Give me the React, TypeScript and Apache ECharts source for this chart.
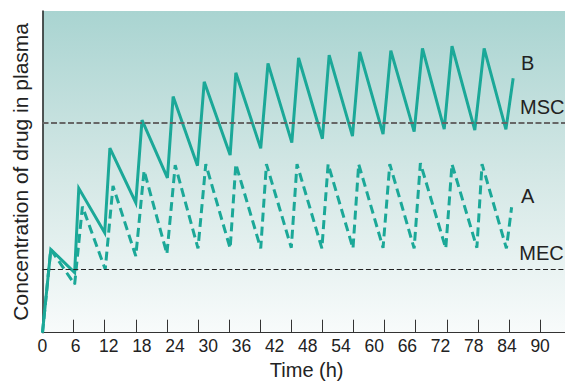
import React, { useEffect, useRef } from 'react';
import * as echarts from 'echarts';

// Curve B (solid): time (h) and concentration (arbitrary units, 0-100)
const bTimes = [0, 1.6, 6.2, 7.0, 12.0, 13.0, 18.0, 19.2, 24.1, 25.2, 29.9, 31.2, 36.2, 37.3, 42.1, 43.5, 48.1, 49.4, 54.0, 55.3, 59.8, 61.2, 65.7, 67.2, 71.7, 73.3, 77.5, 79.0, 83.4, 85.2, 89.4, 90.8];
const bValues = [0, 25.9, 18.7, 44.9, 31.1, 57.4, 40.4, 66.1, 48.1, 73.4, 51.9, 78.0, 55.2, 80.8, 57.3, 83.7, 59.1, 85.4, 60.3, 86.3, 61.1, 87.3, 61.7, 87.7, 62.5, 88.4, 63.3, 89.1, 63.0, 88.4, 63.2, 79.1];

// Curve A (dashed)
const aTimes = [0, 1.6, 6.2, 7.7, 12.1, 13.6, 18.0, 19.6, 24.0, 25.6, 30.0, 31.5, 36.2, 37.3, 42.1, 43.2, 48.0, 49.1, 53.9, 55.1, 59.9, 61.0, 65.7, 67.0, 71.7, 72.9, 77.8, 79.0, 83.8, 84.8, 89.5, 90.5];
const aValues = [0, 25.9, 15.0, 39.2, 19.7, 45.6, 23.8, 50.4, 24.5, 52.1, 26.2, 52.4, 26.2, 52.4, 26.2, 52.4, 26.4, 52.4, 26.2, 52.4, 26.2, 52.4, 26.4, 52.4, 26.2, 52.7, 26.2, 52.4, 26.4, 52.4, 26.2, 39.0];

const tickHours = [6, 12, 18, 24, 30, 36, 42, 48, 54, 60, 66, 72, 78, 84, 90, 96];
const labelHours = [0, 6, 12, 18, 24, 30, 36, 42, 48, 54, 60, 66, 72, 78, 84, 90];

const MSC_LEVEL = 65.3;
const MEC_LEVEL = 19.8;

const TEAL = '#1ba898';
const FONT = 'Liberation Sans, Arial, Helvetica, sans-serif';

export default function App() {
  const ref = useRef<HTMLDivElement>(null);
  useEffect(() => {
    const chart = echarts.init(ref.current as HTMLDivElement, null, { renderer: 'svg' });
    const bData = bTimes.map((t, i) => [t, bValues[i]]);
    const aData = aTimes.map((t, i) => [t, aValues[i]]);
    chart.setOption({
      animation: false,
      textStyle: { fontFamily: FONT },
      grid: [
        {
          left: 42.5, right: 0, top: 11, bottom: 52.3, show: true, borderWidth: 0,
          backgroundColor: {
            type: 'linear', x: 0, y: 0, x2: 0, y2: 1,
            colorStops: [
              { offset: 0, color: '#a9d4d1' },
              { offset: 0.5, color: '#d3e7e5' },
              { offset: 1, color: '#f8fbfb' },
            ],
          },
        },
        { left: 42.3, right: 0, top: 11, bottom: 52.3, show: false },
      ],
      xAxis: [
        {
          gridIndex: 0, type: 'value', min: 0, max: 100.8,
          axisLine: { show: true, lineStyle: { color: '#333', width: 1.2 } },
          axisTick: { show: true, inside: true, length: 13, customValues: tickHours, lineStyle: { color: '#333', width: 1 } },
          axisLabel: { show: false },
          splitLine: { show: false },
        },
        {
          gridIndex: 1, type: 'value', min: 0, max: 94.5, interval: 6,
          axisLine: { show: false }, axisTick: { show: false }, splitLine: { show: false },
          axisLabel: { show: true, fontSize: 17.5, color: '#222', margin: 11, customValues: labelHours },
          name: 'Time (h)', nameLocation: 'middle', nameGap: 30,
          nameTextStyle: { fontSize: 20, color: '#222', padding: [0, 0, 0, 6] },
        },
      ],
      yAxis: [
        {
          gridIndex: 0, type: 'value', min: 0, max: 100,
          axisLine: { show: true, lineStyle: { color: '#222', width: 1.5 } },
          axisTick: { show: false }, axisLabel: { show: false }, splitLine: { show: false },
          name: 'Concentration of drug in plasma', nameLocation: 'middle', nameGap: 12,
          nameTextStyle: { fontSize: 21, color: '#222' },
        },
        { gridIndex: 1, type: 'value', min: 0, max: 100, show: false },
      ],
      series: [
        {
          name: 'A', type: 'line', xAxisIndex: 0, yAxisIndex: 0, data: aData,
          showSymbol: false, symbol: 'none',
          lineStyle: { color: TEAL, width: 3, type: [9, 5] },
        },
        {
          name: 'B', type: 'line', xAxisIndex: 0, yAxisIndex: 0, data: bData,
          showSymbol: false, symbol: 'none', z: 3,
          lineStyle: { color: TEAL, width: 3, join: 'miter' },
          markLine: {
            silent: true, symbol: 'none', label: { show: false },
            data: [
              { yAxis: MSC_LEVEL, lineStyle: { color: '#666', width: 2, type: [6, 2.5] } },
              { yAxis: MEC_LEVEL, lineStyle: { color: '#222', width: 1, type: [5, 2.7] } },
            ],
          },
        },
      ],
      graphic: [
        { type: 'text', x: 527.7, y: 62.5, style: { text: 'B', font: `20px ${FONT}`, fill: '#222', textAlign: 'center', textVerticalAlign: 'middle' } },
        { type: 'text', x: 520, y: 106.7, style: { text: 'MSC', font: `20px ${FONT}`, fill: '#222', textAlign: 'left', textVerticalAlign: 'middle' } },
        { type: 'text', x: 527.7, y: 195.8, style: { text: 'A', font: `20px ${FONT}`, fill: '#222', textAlign: 'center', textVerticalAlign: 'middle' } },
        { type: 'text', x: 519.3, y: 252.5, style: { text: 'MEC', font: `20px ${FONT}`, fill: '#222', textAlign: 'left', textVerticalAlign: 'middle' } },
      ],
    });
    return () => chart.dispose();
  }, []);
  return <div ref={ref} style={{ position: 'absolute', left: 0, top: 0, width: 565, height: 385 }} />;
}
